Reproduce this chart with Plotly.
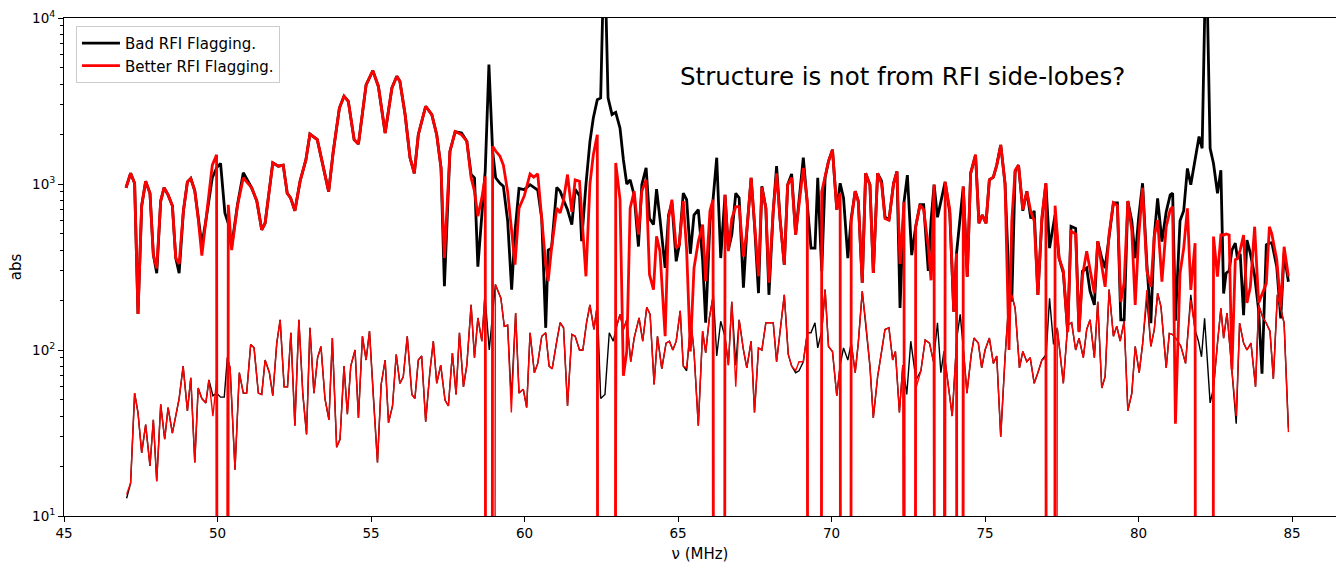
import plotly.graph_objects as go

# ---------------- data ----------------
# upper (thick) curves
freq_hi = [47.02, 47.17, 47.30, 47.41, 47.53, 47.66, 47.80, 47.91, 48.02, 48.15, 48.26, 48.39, 48.53, 48.64,
           48.75, 48.89, 49.02, 49.13, 49.26, 49.37, 49.49, 49.62, 49.83, 49.97, 50.10, 50.24, 50.35, 50.46,
           50.65, 50.84, 51.11, 51.28, 51.44, 51.55, 51.80, 51.98, 52.14, 52.27, 52.38, 52.52, 52.69, 52.88,
           53.01, 53.25, 53.45, 53.62, 53.77, 53.97, 54.12, 54.26, 54.45, 54.59, 54.84, 55.06, 55.24, 55.46,
           55.68, 55.84, 55.94, 56.11, 56.27, 56.41, 56.54, 56.78, 56.98, 57.14, 57.28, 57.39, 57.57, 57.74,
           57.95, 58.12, 58.26, 58.37, 58.48, 58.61, 58.72, 58.84, 58.96, 59.06, 59.20, 59.31, 59.45, 59.58,
           59.69, 59.82, 59.99, 60.18, 60.30, 60.43, 60.56, 60.69, 60.77, 60.88, 61.05, 61.16, 61.27, 61.40,
           61.54, 61.65, 61.79, 61.86, 62.00, 62.13, 62.24, 62.37, 62.48, 62.60, 62.72, 62.85, 62.97, 63.11,
           63.22, 63.33, 63.44, 63.57, 63.71, 63.82, 63.96, 64.07, 64.20, 64.30, 64.41, 64.58, 64.69, 64.80,
           64.94, 65.04, 65.17, 65.28, 65.40, 65.52, 65.66, 65.80, 65.90, 66.04, 66.14, 66.26, 66.39, 66.53,
           66.64, 66.75, 66.88, 66.99, 67.13, 67.24, 67.38, 67.49, 67.62, 67.73, 67.86, 67.96, 68.10, 68.21,
           68.32, 68.46, 68.57, 68.70, 68.83, 68.94, 69.08, 69.21, 69.33, 69.46, 69.55, 69.68, 69.79, 69.90,
           70.03, 70.17, 70.28, 70.39, 70.53, 70.64, 70.77, 70.87, 71.00, 71.11, 71.25, 71.36, 71.50, 71.63,
           71.74, 71.87, 72.02, 72.13, 72.23, 72.30, 72.36, 72.47, 72.61, 72.74, 72.88, 73.00, 73.15, 73.24,
           73.34, 73.45, 73.56, 73.70, 73.85, 73.98, 74.07, 74.18, 74.29, 74.42, 74.53, 74.69, 74.80, 74.91,
           75.03, 75.14, 75.27, 75.38, 75.51, 75.65, 75.78, 75.87, 75.98, 76.09, 76.23, 76.36, 76.49, 76.60,
           76.72, 76.85, 76.98, 77.10, 77.20, 77.28, 77.41, 77.55, 77.69, 77.80, 77.95, 78.06, 78.17, 78.31,
           78.42, 78.56, 78.67, 78.80, 78.91, 79.04, 79.18, 79.31, 79.42, 79.53, 79.65, 79.78, 79.89, 80.00,
           80.13, 80.27, 80.40, 80.51, 80.62, 80.76, 80.90, 81.03, 81.11, 81.20, 81.35, 81.47, 81.59, 81.70,
           81.84, 81.97, 82.07, 82.20, 82.33, 82.44, 82.57, 82.68, 82.77, 82.85, 82.95, 83.04, 83.15, 83.22,
           83.31, 83.42, 83.53, 83.64, 83.78, 83.91, 84.02, 84.16, 84.26, 84.34, 84.50, 84.63, 84.74, 84.88]
bad_hi = [950, 1160, 1010, 165, 740, 1040, 880, 375, 290, 790, 950, 860, 740, 358,
          290, 690, 1030, 1080, 910, 620, 430, 600, 1090, 1250, 1330, 670, 580, 420,
          750, 1170, 950, 790, 530, 580, 1340, 1280, 1300, 880, 825, 690, 1040, 1400,
          2000, 1850, 1250, 900, 1570, 2870, 3380, 3150, 1850, 1740, 3960, 4820, 3870, 2030,
          3790, 4460, 4160, 2620, 1440, 1160, 1980, 2940, 2620, 1980, 1250, 242, 1570, 2070,
          2030, 1810, 1140, 1090, 318, 685, 1200, 5240, 1580, 1090, 1010, 970, 600, 231,
          520, 940, 925, 990, 958, 920, 620, 136, 400, 411, 955, 905, 800, 700,
          570, 930, 850, 452, 990, 1800, 2500, 3220, 3300, 30000, 3300, 2620, 2700, 2170,
          1400, 1000, 1060, 860, 420, 990, 1250, 620, 570, 930, 620, 312, 650, 770,
          342, 430, 880, 805, 380, 650, 700, 350, 146, 596, 805, 1440, 358, 860,
          403, 495, 880, 825, 237, 520, 1090, 570, 220, 970, 715, 215, 690, 1280,
          620, 327, 990, 1150, 495, 825, 1440, 750, 411, 411, 1090, 298, 1090, 1370,
          1610, 700, 1010, 825, 358, 620, 905, 790, 254, 1160, 990, 291, 1160, 1040,
          635, 605, 1010, 1190, 179, 400, 780, 1130, 373, 553, 750, 750, 300, 600,
          990, 630, 770, 1030, 670, 170, 382, 600, 965, 276, 1160, 1500, 580, 650,
          580, 1060, 1100, 1300, 1720, 1010, 254, 196, 1190, 1300, 690, 905, 620, 690,
          215, 605, 1010, 411, 530, 650, 358, 291, 130, 556, 540, 130, 298, 312,
          226, 187, 452, 358, 312, 470, 770, 770, 152, 152, 790, 596, 358, 620,
          1010, 330, 145, 482, 820, 450, 680, 860, 880, 150, 600, 690, 1240, 990,
          1360, 1930, 1640, 30000, 1640, 1330, 880, 1210, 219, 290, 300, 400, 440, 357,
          380, 162, 460, 382, 280, 174, 72, 430, 440, 443, 318, 155, 382, 258]
better_hi = [950, 1160, 1010, 165, 740, 1040, 880, 375, 310, 790, 950, 860, 740, 358,
             330, 690, 1030, 1080, 910, 620, 370, 600, 1300, 1500, 0, 0, 750, 400,
             740, 1090, 950, 790, 530, 580, 1340, 1280, 1300, 880, 825, 690, 1040, 1400,
             2000, 1850, 1250, 900, 1570, 2870, 3380, 3150, 1850, 1740, 3960, 4820, 3870, 2030,
             3790, 4460, 4160, 2620, 1440, 1160, 1980, 2940, 2620, 1980, 1250, 358, 1570, 2070,
             1980, 1810, 1090, 905, 640, 825, 1110, 0, 1690, 1580, 1470, 1300, 900, 500,
             327, 715, 845, 1150, 1100, 1150, 620, 330, 260, 411, 715, 670, 800, 1140,
             680, 1060, 1040, 700, 278, 1000, 1500, 1980, 0, 0, 0, 0, 1340, 805,
             70, 98, 715, 905, 495, 905, 1060, 285, 231, 484, 394, 121, 620, 805,
             411, 430, 790, 400, 98, 312, 450, 570, 260, 690, 805, 0, 0, 860,
             394, 620, 730, 730, 366, 520, 1090, 570, 278, 955, 715, 254, 690, 1160,
             620, 327, 990, 1090, 495, 750, 1250, 790, 0, 0, 0, 900, 1090, 1370,
             1610, 700, 880, 0, 0, 600, 905, 790, 254, 1160, 990, 291, 1160, 1000,
             620, 605, 1010, 1190, 330, 500, 780, 0, 0, 553, 750, 700, 420, 263,
             990, 0, 0, 1030, 700, 170, 382, 0, 965, 276, 1160, 1500, 580, 650,
             580, 1060, 1100, 1300, 1720, 1010, 100, 600, 1210, 1300, 700, 900, 680, 600,
             215, 630, 1010, 0, 0, 740, 358, 300, 128, 520, 500, 128, 278, 394,
             312, 220, 452, 320, 240, 500, 770, 740, 195, 254, 790, 520, 187, 470,
             950, 300, 240, 482, 607, 258, 553, 700, 730, 36, 290, 411, 713, 230,
             440, 0, 0, 0, 0, 482, 277, 493, 493, 500, 493, 76, 350, 355,
             400, 493, 192, 240, 553, 192, 215, 252, 553, 500, 350, 182, 419, 277]

# lower (thin) curves
freq_lo = [47.04, 47.17, 47.30, 47.41, 47.53, 47.66, 47.80, 47.91, 48.02, 48.15, 48.28, 48.39, 48.53, 48.75,
           48.88, 49.02, 49.13, 49.26, 49.37, 49.49, 49.62, 49.72, 49.85, 49.97, 50.10, 50.22, 50.32, 50.41,
           50.57, 50.71, 50.84, 50.95, 51.08, 51.19, 51.33, 51.44, 51.55, 51.69, 51.80, 51.93, 52.04, 52.17,
           52.28, 52.39, 52.52, 52.65, 52.78, 52.90, 53.01, 53.14, 53.26, 53.37, 53.50, 53.63, 53.74, 53.88,
           53.99, 54.12, 54.23, 54.34, 54.48, 54.59, 54.72, 54.84, 54.95, 55.08, 55.21, 55.33, 55.46, 55.57,
           55.70, 55.82, 55.94, 56.05, 56.18, 56.33, 56.43, 56.54, 56.65, 56.78, 56.92, 57.03, 57.14, 57.27,
           57.41, 57.52, 57.65, 57.77, 57.88, 58.01, 58.12, 58.26, 58.37, 58.48, 58.61, 58.71, 58.85, 59.05,
           59.23, 59.34, 59.45, 59.57, 59.71, 59.82, 59.96, 60.07, 60.18, 60.32, 60.43, 60.56, 60.69, 60.80,
           60.90, 61.05, 61.16, 61.27, 61.40, 61.54, 61.65, 61.79, 61.90, 62.02, 62.13, 62.26, 62.37, 62.48,
           62.62, 62.76, 62.89, 63.00, 63.11, 63.22, 63.33, 63.46, 63.57, 63.73, 63.85, 63.98, 64.09, 64.22,
           64.33, 64.47, 64.61, 64.72, 64.83, 64.94, 65.07, 65.17, 65.28, 65.42, 65.52, 65.66, 65.80, 65.90,
           66.02, 66.15, 66.26, 66.39, 66.53, 66.64, 66.75, 66.88, 66.99, 67.13, 67.24, 67.38, 67.49, 67.62,
           67.73, 67.86, 67.97, 68.10, 68.21, 68.32, 68.46, 68.59, 68.70, 68.83, 68.94, 69.08, 69.21, 69.33,
           69.46, 69.55, 69.68, 69.79, 69.90, 70.03, 70.17, 70.28, 70.39, 70.53, 70.64, 70.77, 70.87, 71.00,
           71.11, 71.25, 71.36, 71.50, 71.63, 71.74, 71.87, 71.99, 72.08, 72.21, 72.32, 72.45, 72.58, 72.75,
           72.91, 73.05, 73.19, 73.32, 73.45, 73.56, 73.66, 73.80, 73.93, 74.08, 74.19, 74.30, 74.41, 74.55,
           74.64, 74.78, 74.89, 75.00, 75.14, 75.27, 75.38, 75.51, 75.65, 75.78, 75.87, 75.98, 76.12, 76.23,
           76.36, 76.47, 76.60, 76.72, 76.85, 76.99, 77.10, 77.23, 77.35, 77.55, 77.69, 77.82, 77.95, 78.06,
           78.20, 78.31, 78.42, 78.56, 78.67, 78.80, 78.91, 79.04, 79.18, 79.29, 79.40, 79.53, 79.65, 79.78,
           79.89, 80.02, 80.13, 80.27, 80.40, 80.51, 80.62, 80.73, 80.90, 81.00, 81.11, 81.25, 81.38, 81.53,
           81.70, 81.84, 81.95, 82.05, 82.15, 82.33, 82.44, 82.57, 82.68, 82.77, 82.88, 83.04, 83.18, 83.29,
           83.42, 83.53, 83.66, 83.81, 83.91, 84.04, 84.16, 84.28, 84.39, 84.52, 84.63, 84.74, 84.88]
bad_lo = [12.8, 15.8, 55, 42, 24, 35.5, 20, 38, 16.2, 47, 29, 45, 31.6, 51,
          80, 43, 68, 21, 59, 51, 48, 66, 53, 55, 52, 52, 90, 78,
          19, 73, 55, 55, 108, 103, 55, 54, 87, 73, 53, 110, 152, 60,
          60, 127, 35, 152, 54, 31, 136, 55, 90, 105, 51, 38, 118, 26,
          29, 80, 41, 80, 100, 39, 121, 87, 130, 50, 21, 62, 87, 36.5,
          46, 94, 63, 69, 121, 54, 51, 87, 92, 37, 75, 113, 63, 81,
          50, 46, 96, 54, 127, 60, 81, 187, 90, 156, 113, 215, 100, 248,
          205, 139, 141, 50, 167, 55, 58, 45, 127, 73, 83, 121, 127, 80,
          77, 113, 146, 136, 46, 124, 121, 100, 100, 146, 187, 133, 187, 51,
          54, 127, 113, 139, 164, 133, 152, 85, 118, 156, 113, 181, 164, 62,
          121, 77, 110, 113, 100, 113, 172, 80, 75, 149, 98, 35, 130, 96,
          156, 215, 92, 149, 120, 81, 195, 81, 152, 100, 78, 113, 42, 103,
          100, 146, 146, 146, 85, 133, 215, 94, 80, 73, 75, 85, 127, 127,
          146, 103, 130, 231, 105, 98, 53, 81, 103, 87, 110, 73, 110, 226,
          149, 80, 39, 69, 98, 133, 136, 87, 98, 42, 81, 54, 113, 66,
          75, 115, 110, 85, 146, 73, 98, 62, 40, 118, 164, 98, 55, 94,
          118, 110, 78, 100, 118, 83, 92, 30, 90, 205, 215, 178, 78, 98,
          85, 90, 63, 73, 87, 94, 205, 108, 136, 63, 141, 146, 100, 118,
          90, 133, 152, 90, 195, 59, 69, 231, 121, 139, 113, 149, 43, 55,
          105, 73, 108, 205, 105, 132, 220, 182, 78, 126, 124, 115, 105, 83,
          215, 132, 113, 91, 155, 48, 59, 110, 178, 118, 167, 75, 36, 145,
          110, 100, 110, 60, 187, 158, 145, 130, 67, 215, 176, 145, 34]
better_lo = [13.5, 15.8, 55, 42, 24, 35.5, 20, 38, 16.2, 47, 29, 45, 31.6, 51,
             80, 43, 68, 21, 59, 51, 48, 66, 40, 66, 0, 0, 90, 78,
             19, 73, 55, 55, 108, 103, 55, 54, 87, 73, 53, 110, 152, 60,
             60, 127, 35, 152, 54, 31, 136, 55, 90, 105, 51, 38, 118, 26,
             29, 80, 41, 80, 100, 39, 121, 87, 130, 50, 21, 62, 87, 36.5,
             46, 94, 63, 69, 121, 54, 51, 87, 92, 37, 75, 113, 63, 81,
             50, 46, 96, 54, 127, 60, 81, 187, 90, 156, 113, 215, 0, 248,
             205, 139, 141, 42, 167, 55, 58, 45, 127, 73, 83, 121, 127, 80,
             77, 113, 146, 136, 46, 124, 121, 100, 100, 146, 187, 133, 187, 0,
             0, 0, 0, 139, 164, 133, 152, 85, 118, 156, 113, 181, 164, 62,
             121, 77, 110, 113, 100, 113, 172, 80, 78, 149, 98, 35, 130, 96,
             156, 215, 0, 0, 120, 81, 195, 60, 152, 100, 78, 113, 42, 103,
             100, 146, 146, 146, 85, 133, 215, 94, 80, 75, 85, 85, 127, 0,
             0, 0, 130, 231, 105, 98, 53, 81, 0, 0, 110, 73, 110, 226,
             149, 80, 39, 69, 98, 133, 136, 87, 98, 42, 81, 0, 0, 59,
             75, 115, 110, 85, 0, 0, 98, 62, 40, 118, 0, 98, 55, 94,
             118, 110, 78, 100, 118, 83, 92, 30, 90, 205, 215, 178, 78, 98,
             85, 90, 63, 73, 87, 90, 0, 0, 136, 63, 141, 146, 100, 118,
             90, 133, 152, 90, 195, 59, 69, 231, 121, 139, 113, 149, 43, 55,
             105, 73, 108, 230, 105, 132, 220, 182, 78, 126, 124, 115, 105, 83,
             200, 132, 0, 0, 0, 0, 59, 110, 178, 118, 167, 75, 40, 145,
             110, 100, 110, 60, 187, 158, 145, 130, 67, 215, 176, 145, 32]

series_names = ["Bad RFI Flagging.", "Better RFI Flagging."]
note_text = "Structure is not from RFI side-lobes?"
x_ticks = [45, 50, 55, 60, 65, 70, 75, 80, 85]
y_ticks = [10, 100, 1000, 10000]
y_tick_text = ["10<sup>1</sup>", "10<sup>2</sup>", "10<sup>3</sup>", "10<sup>4</sup>"]

# flagged (zero) channels fall off the bottom of the log axis, as matplotlib's clipping does
FLOOR = 1e-30


def clip(vals):
    return [v if v > 0 else FLOOR for v in vals]


FONT = "DejaVu Sans, Verdana, sans-serif"
fig = go.Figure()
fig.add_trace(go.Scatter(x=freq_hi, y=clip(bad_hi), mode="lines", name=series_names[0],
                         line=dict(color="#000000", width=2.8), legendrank=1))
fig.add_trace(go.Scatter(x=freq_lo, y=clip(bad_lo), mode="lines", showlegend=False,
                         line=dict(color="#000000", width=1.4)))
fig.add_trace(go.Scatter(x=freq_hi, y=clip(better_hi), mode="lines", name=series_names[1],
                         line=dict(color="#ff0000", width=2.8), legendrank=2))
fig.add_trace(go.Scatter(x=freq_lo, y=clip(better_lo), mode="lines", showlegend=False,
                         line=dict(color="#ff0000", width=1.4)))

minor_vals = [m * 10 ** e for e in (1, 2, 3) for m in range(2, 10)]

fig.update_layout(
    width=1336, height=564,
    margin=dict(l=64, r=0, t=18, b=48),
    paper_bgcolor="white", plot_bgcolor="white",
    font=dict(family=FONT, size=13.5, color="black"),
    showlegend=True,
    legend=dict(x=0.0094, y=0.984, xanchor="left", yanchor="top",
                bgcolor="rgba(255,255,255,0.8)", bordercolor="#cccccc", borderwidth=1,
                font=dict(size=15), tracegroupgap=0, itemwidth=38),
    xaxis=dict(range=[45, 86.43], tickvals=x_ticks, ticks="outside", ticklen=5, tickwidth=1,
               tickcolor="black", showline=True, linecolor="black", linewidth=1, mirror=True,
               showgrid=False, zeroline=False,
               title=dict(text="ν (MHz)", standoff=8, font=dict(size=15))),
    yaxis=dict(type="log", range=[1, 4], tickvals=y_ticks, ticktext=y_tick_text,
               ticks="outside", ticklen=5, tickwidth=1, tickcolor="black",
               minor=dict(tickvals=minor_vals, ticks="outside", ticklen=3, tickwidth=0.8,
                          tickcolor="black", showgrid=False),
               showline=True, linecolor="black", linewidth=1, mirror=False,
               showgrid=False, zeroline=False,
               title=dict(text="abs", standoff=6, font=dict(size=15))),
    annotations=[dict(x=65.0, y=3.645, xref="x", yref="y", text=note_text, showarrow=False,
                      xanchor="left", yanchor="middle", font=dict(size=24.5, family=FONT, color="black"))],
)

fig.write_html("out.html")
